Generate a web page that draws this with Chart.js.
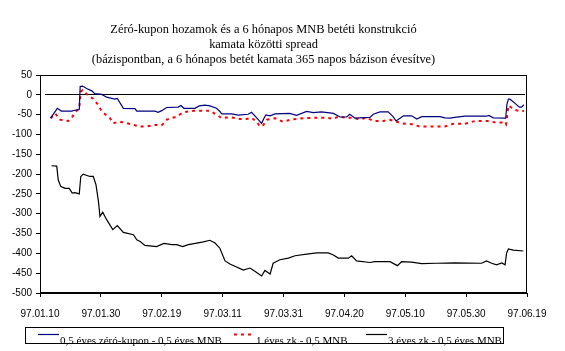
<!DOCTYPE html>
<html>
<head>
<meta charset="utf-8">
<script src="https://cdn.jsdelivr.net/npm/chart.js@4/dist/chart.umd.min.js"></script>
<style>
  html, body { margin: 0; padding: 0; background: #fff; }
  #wrap { width: 565px; height: 351px; }
</style>
</head>
<body>
<div id="wrap"><canvas id="spreadChart" width="565" height="351"></canvas></div>
<script>
// napok 97.01.10-tol szamolva
var startDate = new Date(1997, 0, 10);
var xTicks = [0, 20, 40, 60, 80, 100, 120, 140, 160];
var yTicks = [50, -500];

var titleLines = [
	"Zéró-kupon hozamok és a 6 hónapos MNB betéti konstrukció",
	"kamata közötti spread",
	"(bázispontban, a 6 hónapos betét kamata 365 napos bázison évesítve)"
];

var labelHalf = "0,5 éves zéró-kupon - 0,5 éves MNB";
var labelEgy = "1 éves zk - 0,5 MNB";
var labelHarom = "3 éves zk - 0,5 éves MNB";

var halfDays = [3.5, 5.7, 7, 10.4, 11.5, 12.9, 13.2, 14, 15.3, 17, 18, 20.3, 21.9, 24.6, 25.4, 27.4, 31.2, 31.8, 37.8, 38.8, 40,
	41.6, 45.4, 46.3, 47.3, 50.9, 52.3, 54.2, 55.8, 58, 59.1, 59.7, 63, 65.1, 68.4, 69.5, 71.2, 72.8, 73.6, 74.2, 75.6, 77.2,
	82, 84.3, 87.6, 89.8, 92.5, 96.4, 98.6, 100.7, 101.8, 103.5, 108.4, 109.5, 111.7, 114.4, 116, 117, 118.5, 119.4, 122.1,
	123.8, 125.4, 131.4, 133, 134.7, 136.3, 139.6, 146.7, 147.5, 148.9, 153, 153.4, 153.9, 154.4, 156, 157.5, 158.2, 159];
var halfVals = [-59, -34, -41, -41, -39, -37, 21, 22, 16, 10, 3, 1, -6, -11, -9, -34, -35, -41, -41, -44, -40,
	-32, -31, -27, -34, -34, -28, -26, -28, -34, -42, -48, -48, -51, -49, -44, -58, -72, -59, -51, -53, -48,
	-47, -52, -42, -45, -43, -47, -56, -56, -49, -59, -57, -49, -43, -43, -55, -66, -58, -53, -53,
	-61, -55, -55, -58, -59, -57, -54, -54, -52, -58, -59, -24, -11, -11, -21, -31, -31, -25];

var egyDays = [3.5, 5, 6.7, 9.3, 10.4, 11.5, 12.9, 13.4, 14, 15.9, 17.5, 19.2, 20.3, 23, 24.1, 25.7, 27.9, 30.7, 32.9, 35, 37.8, 40,
	41.8, 44.9, 47.1, 50.9, 55.8, 58.6, 59.7, 61.3, 63, 65.7, 67.9, 69.5, 71.2, 72.3, 73.4, 74.5, 76.1, 77.2, 79.9,
	82.7, 86.5, 89.8, 94.2, 96.4, 98, 100.7, 102.4, 105.1, 107.3, 109.5, 112.8, 115, 117.2, 118.8, 122.1,
	124.8, 126.5, 129, 133, 135.8, 139.6, 143, 147, 150, 151.7, 153.1, 153.9, 156, 157.7, 159];
var egyVals = [-59, -47, -63, -66, -59, -44, -34, 8, 12, -2, -10, -26, -42, -59, -72, -68, -70, -76, -80, -80, -76, -77,
	-62, -55, -44, -40, -40, -53, -59, -57, -57, -61, -61, -58, -68, -80, -76, -63, -61, -59, -68,
	-62, -59, -58, -58, -61, -55, -58, -58, -62, -58, -66, -66, -63, -68, -72, -74,
	-80, -80, -80, -80, -73, -73, -66, -66, -70, -70, -76, -27, -38, -41, -41];

var haromDays = [3.8, 5.5, 6, 6.8, 8.2, 9.6, 10.6, 11.5, 12.9, 13.4, 14.2, 16.4, 17.5, 18.4, 19.2, 19.7, 20.6, 21.9, 23.9, 25.4,
	27.4, 30.7, 31.8, 32.9, 34.5, 38.3, 40.7, 43.3, 44.9, 46.9, 48.7, 51.5, 53.7, 55.8, 57.5, 59.1, 60.8, 62.4, 66.8,
	69, 70.6, 72.8, 73.9, 75.6, 76.6, 78.8, 81.6, 83.8, 87.6, 90.9, 94.7, 96.4, 98, 101.3, 102.4, 104, 108.4, 110,
	115, 117.4, 118.8, 122.1, 125.4, 130.3, 136.3, 145.1, 146.7, 148.4, 150, 151.7, 152.8, 153.3, 153.9, 155.5, 158.8];
var haromVals = [-179, -180, -215, -231, -236, -236, -248, -247, -250, -206, -200, -206, -206, -227, -269, -307, -296, -315, -340, -330,
	-347, -353, -366, -370, -380, -383, -375, -378, -378, -383, -378, -374, -371, -367, -374, -387, -419, -427, -442,
	-437, -445, -457, -443, -452, -425, -416, -412, -406, -402, -399, -399, -404, -412, -412, -406, -419, -423, -421,
	-421, -431, -421, -422, -426, -425, -424, -425, -419, -425, -429, -424, -429, -399, -389, -392, -394];

function pontok(days, vals) {
	var out = [];
	for (var i = 0; i < days.length; i++) {
		out.push({ x: days[i], y: vals[i] });
	}
	return out;
}

function datumFelirat(value) {
	var d = new Date(startDate.getTime() + value * 86400000);
	var m = d.getMonth() + 1;
	var n = d.getDate();
	return "97." + (m < 10 ? "0" + m : m) + "." + (n < 10 ? "0" + n : n);
}

// keret (teljes teglalap) + nulla vonal
var keretPlugin = {
	id: 'keret',
	beforeDatasetsDraw: function(chart) {
		var c = chart.ctx;
		var sx = chart.scales.x;
		var sy = chart.scales.y;
		var bal = Math.round(sx.getPixelForValue(xTicks[0]));
		var jobb = Math.round(sx.getPixelForValue(xTicks[xTicks.length - 1]));
		var fent = Math.round(sy.getPixelForValue(yTicks[0]));
		var lent = Math.round(sy.getPixelForValue(yTicks[1]));
		var y0 = Math.round(sy.getPixelForValue(0)) - 0.5;
		c.save();
		c.setLineDash([]);
		c.strokeStyle = 'rgb(0,0,0)';
		c.lineWidth = 1;
		c.strokeRect(bal + 0.5, fent + 0.5, jobb - bal - 1, lent - fent - 1);
		c.beginPath();
		c.moveTo(bal + 5, y0);
		c.lineTo(jobb - 2, y0);
		c.stroke();
		c.restore();
	}
};

// jelmagyarazat doboz alul
var jelmagyPlugin = {
	id: 'jelmagy',
	afterDraw: function(chart) {
		var c = chart.ctx;
		var pos = [38, 234, 366];
		c.save();
		c.strokeStyle = '#000';
		c.lineWidth = 1;
		c.strokeRect(25.5, 327.5, 478, 16);
		c.font = '11px "Liberation Serif", serif';
		c.fillStyle = '#000';
		c.textBaseline = 'alphabetic';
		chart.data.datasets.forEach(function(ds, i) {
			c.strokeStyle = ds.borderColor;
			c.lineWidth = ds.borderWidth;
			c.setLineDash(ds.borderDash || []);
			c.beginPath();
			c.moveTo(pos[i], 334.5);
			c.lineTo(pos[i] + 21, 334.5);
			c.stroke();
			c.setLineDash([]);
			c.fillText(ds.label, pos[i] + 22, 344);
		});
		c.restore();
	}
};

var ctx = document.getElementById('spreadChart');

var spreadChart = new Chart(ctx, {
	type: 'line',
	data: {
		datasets: [
		{
			label: labelHalf,
			data: pontok(halfDays, halfVals),
			borderColor: '#000080',
			borderWidth: 1.2,
			pointRadius: 0,
			fill: false,
			tension: 0
		},
		{
			label: labelEgy,
			data: pontok(egyDays, egyVals),
			borderColor: '#ff0000',
			borderWidth: 2,
			borderDash: [3, 4],
			pointRadius: 0,
			fill: false,
			tension: 0
		},
		{
			label: labelHarom,
			data: pontok(haromDays, haromVals),
			borderColor: '#000000',
			borderWidth: 1.2,
			pointRadius: 0,
			fill: false,
			tension: 0
		}
		]
	},
	options: {
		responsive: false,
		animation: false,
		layout: { padding: { left: 0, right: 38, top: 0, bottom: 0 } },
		plugins: {
			legend: { display: false },
			tooltip: { enabled: false },
			title: {
				display: true,
				text: titleLines,
				color: '#000',
				font: { family: '"Liberation Serif", serif', size: 12.4, weight: 'normal', lineHeight: '15px' },
				padding: { top: 22, bottom: 8 }
			}
		},
		scales: {
			x: {
				type: 'linear',
				min: xTicks[0],
				max: xTicks[xTicks.length - 1],
				afterFit: function(scale) { scale.height = 58; },
				border: { display: true, color: '#000', width: 1 },
				grid: { drawOnChartArea: false, drawTicks: true, tickLength: 4, color: '#000' },
				ticks: {
					stepSize: 20,
					autoSkip: false,
					maxRotation: 0,
					padding: 11,
					color: '#000',
					font: { family: '"Liberation Sans", Arial, sans-serif', size: 10 },
					callback: function(value) { return datumFelirat(value); }
				}
			},
			y: {
				min: yTicks[1],
				max: yTicks[0],
				afterFit: function(scale) { scale.width = 40; },
				border: { display: true, color: '#000', width: 1 },
				grid: { drawOnChartArea: false, drawTicks: true, tickLength: 4, color: '#000' },
				ticks: {
					stepSize: 50,
					padding: 4,
					color: '#000',
					font: { family: '"Liberation Sans", Arial, sans-serif', size: 10 }
				}
			}
		}
	},
	plugins: [keretPlugin, jelmagyPlugin]
});
</script>
</body>
</html>
